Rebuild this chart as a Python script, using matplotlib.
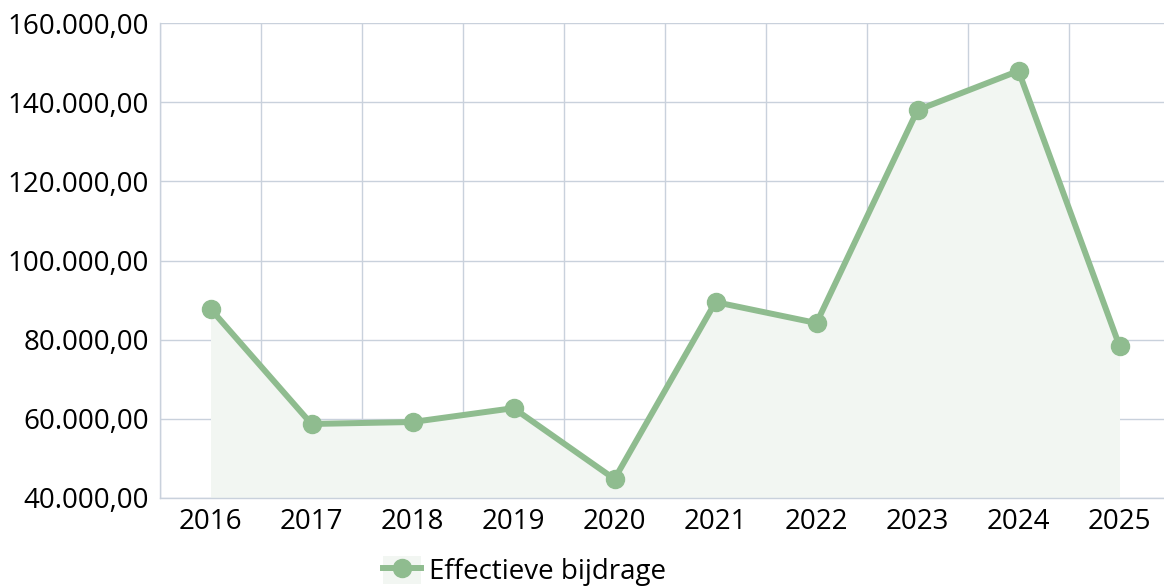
import matplotlib.pyplot as plt
from matplotlib.lines import Line2D
from matplotlib.patches import Patch
from matplotlib.ticker import FuncFormatter, MultipleLocator

plt.rcParams['font.family'] = ['Open Sans', 'DejaVu Sans']

# --- data ---
years = ['2016', '2017', '2018', '2019', '2020', '2021', '2022', '2023', '2024', '2025']
bijdrage = [87800, 58700, 59200, 62700, 44800, 89500, 84200, 138000, 147900, 78400]
series_name = 'Effectieve bijdrage'

line_color = '#8fbc8f'
fill_color = '#f2f6f2'
grid_color = '#c9d1dc'
text_color = '#000000'


def nl_format(v, pos):
    s = f'{v:,.2f}'
    return s.replace(',', '#').replace('.', ',').replace('#', '.')


fig = plt.figure(figsize=(11.64, 5.88), dpi=100)
W, H = 1164, 588
ax = fig.add_axes([160 / W, (H - 498) / H, 1010 / W, 475 / H])

x = list(range(len(years)))
ax.fill_between(x, bijdrage, 40000, color=fill_color, zorder=1, linewidth=0)
ax.plot(x, bijdrage, color=line_color, linewidth=4.3, marker='o',
        markersize=13, zorder=3, solid_joinstyle='round')

ax.set_xlim(-0.5, len(years) - 0.5)
ax.set_ylim(40000, 160000)
ax.yaxis.set_major_locator(MultipleLocator(20000))
ax.yaxis.set_major_formatter(FuncFormatter(nl_format))
ax.set_xticks(x)
ax.set_xticklabels(years)
ax.set_xticks([i - 0.5 for i in range(len(years) + 1)], minor=True)

ax.grid(True, which='minor', axis='x', color=grid_color, linewidth=1, zorder=0)
ax.grid(True, which='major', axis='y', color=grid_color, linewidth=1, zorder=0)
ax.set_axisbelow(True)

for side in ['top', 'right']:
    ax.spines[side].set_visible(False)
for side in ['left', 'bottom']:
    ax.spines[side].set_color(grid_color)
    ax.spines[side].set_linewidth(1)

ax.tick_params(axis='both', which='both', length=0)
ax.tick_params(axis='y', labelsize=20, pad=8, labelcolor=text_color)
ax.tick_params(axis='x', labelsize=20, pad=7, labelcolor=text_color)

handle = (Patch(facecolor=fill_color, edgecolor='none'),
          Line2D([], [], color=line_color, linewidth=4.3, marker='o', markersize=13))
fig.legend([handle], [series_name], loc='center left',
           bbox_to_anchor=(383 / W, 1 - 571 / H), frameon=False,
           fontsize=20, labelcolor=text_color, handlelength=1.35, handleheight=1.2,
           handletextpad=0.3, borderpad=0, borderaxespad=0)

fig.savefig('out.png', dpi=100)
